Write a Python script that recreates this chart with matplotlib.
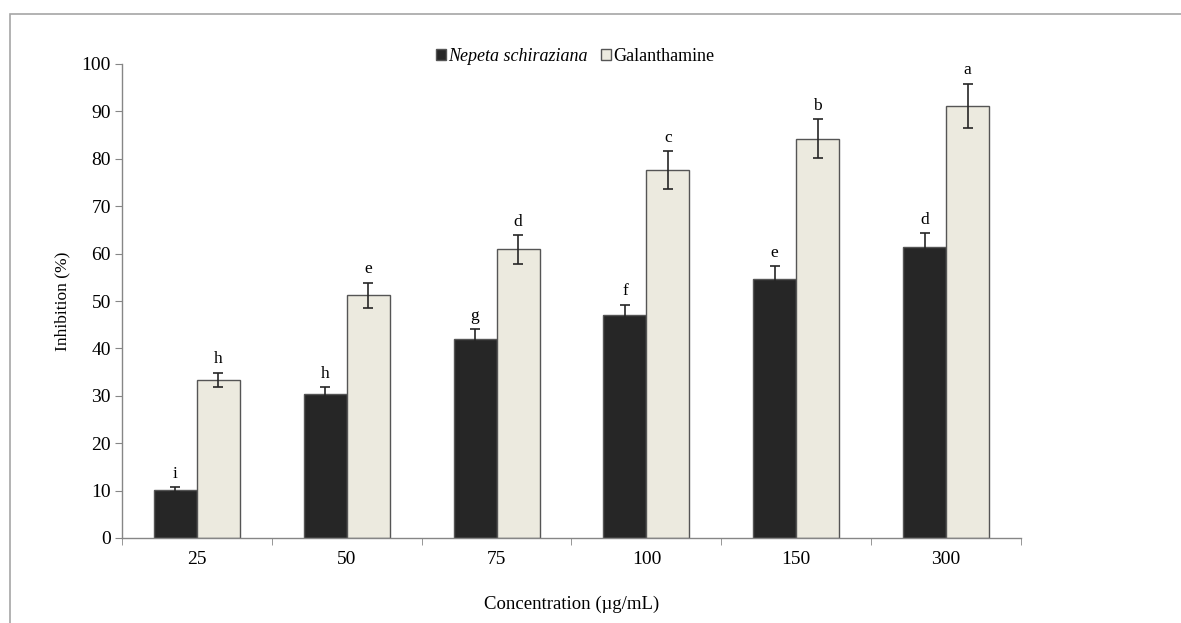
import matplotlib
matplotlib.use("Agg")
import matplotlib.pyplot as plt
import numpy as np
from matplotlib.patches import Rectangle

plt.rcParams['font.family'] = ['Liberation Serif', 'DejaVu Serif']

categories = ['25', '50', '75', '100', '150', '300']
nepeta = [10.2, 30.3, 42.0, 47.0, 54.7, 61.3]
nepeta_err = [0.5, 1.5, 2.0, 2.2, 2.6, 3.0]
nepeta_letters = ['i', 'h', 'g', 'f', 'e', 'd']
galan = [33.4, 51.2, 60.9, 77.6, 84.2, 91.2]
galan_err = [1.5, 2.6, 3.0, 4.0, 4.1, 4.6]
galan_letters = ['h', 'e', 'd', 'c', 'b', 'a']
yticks = [0, 10, 20, 30, 40, 50, 60, 70, 80, 90, 100]

fig = plt.figure(figsize=(11.81, 6.23), dpi=100)
fig.patches.append(Rectangle((10/1181, -0.1), 2.0, 1 - 14/623 + 0.1, transform=fig.transFigure,
                             fill=False, edgecolor='#a6a6a6', linewidth=1.2))
ax = fig.add_axes([122/1181, 1 - 538/623, (1021-122)/1181, (538-64)/623])

x = np.arange(len(categories))
w = 0.287
err_kw = dict(ecolor='#262626', elinewidth=1.2, capsize=3.8, capthick=1.2)
b1 = ax.bar(x - w/2, nepeta, w, yerr=nepeta_err, color='#262626', edgecolor='#555555',
            linewidth=1.0, error_kw=err_kw, label='Nepeta schiraziana')
b2 = ax.bar(x + w/2, galan, w, yerr=galan_err, color='#ECEADF', edgecolor='#555555',
            linewidth=1.0, error_kw=err_kw, label='Galanthamine')

for i in range(len(categories)):
    ax.annotate(nepeta_letters[i], (x[i] - w/2, nepeta[i] + nepeta_err[i]), xytext=(0, 4),
                textcoords='offset points', ha='center', va='bottom', fontsize=12.5)
    ax.annotate(galan_letters[i], (x[i] + w/2, galan[i] + galan_err[i]), xytext=(0, 4),
                textcoords='offset points', ha='center', va='bottom', fontsize=12.5)

ax.set_xlim(-0.5, len(categories) - 0.5)
ax.set_ylim(0, 100)
ax.set_yticks(yticks)
ax.set_xticks(x)
ax.set_xticklabels(categories)
ax.set_xticks(np.arange(len(categories) + 1) - 0.5, minor=True)
ax.tick_params(axis='x', which='major', length=0, pad=9, labelsize=14)
ax.tick_params(axis='x', which='minor', length=5, color='#868686')
ax.tick_params(axis='y', length=5, color='#868686', labelsize=14, pad=3)
for s in ['top', 'right']:
    ax.spines[s].set_visible(False)
for s in ['left', 'bottom']:
    ax.spines[s].set_color('#868686')
    ax.spines[s].set_linewidth(1.0)

ax.set_ylabel('Inhibition (%)', fontsize=12.5, labelpad=8)
ax.set_xlabel('Concentration (µg/mL)', fontsize=13.5, labelpad=20)

leg = fig.legend(handles=[b1, b2], loc='center', bbox_to_anchor=(0.487, 0.909), ncol=2,
                 frameon=False, handlelength=0.55, handleheight=0.55, handletextpad=0.15,
                 columnspacing=0.7, fontsize=13)
leg.get_texts()[0].set_style('italic')

fig.savefig('out.png', dpi=100)
